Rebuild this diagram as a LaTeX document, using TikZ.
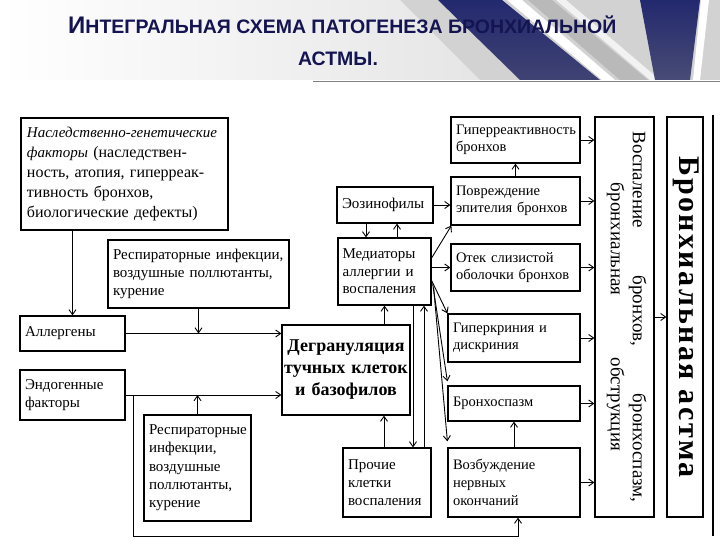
\documentclass[tikz,border=0pt]{standalone}
\usepackage{fontspec}
\setmainfont{Liberation Serif}
\newfontfamily\titlefont{Liberation Sans}
\usetikzlibrary{arrows.meta,calc}
\definecolor{navy}{HTML}{141452}
\definecolor{bandnavy}{HTML}{23296E}
\begin{document}
\begin{tikzpicture}[x=1pt,y=-1pt,
  bx/.style={draw, line width=1.2pt, fill=white, inner sep=0pt, align=left, font=\fontsize{15}{17.5}\selectfont},
  rbx/.style={bx, font=\fontsize{14.5}{17}\selectfont},
  arr/.style={line width=0.9pt, -{Straight Barb[length=5pt,width=7pt]}},
  ln/.style={line width=0.9pt},
  ttl/.style={text=navy, inner sep=0pt, font=\titlefont\bfseries\fontsize{19.5}{22}\selectfont}]
\useasboundingbox (0,0) rectangle (720,540);
% header background
\shade[left color=white, right color=gray!30] (0,0) rectangle (720,80);
\fill[gray!35] (400,0) -- (720,0) -- (720,80) -- (480,80) -- cycle;
\shade[top color=bandnavy, bottom color=bandnavy!70!gray] (438,0) -- (502,0) -- (600,80) -- (520,80) -- cycle;
\fill[white] (507,0) -- (522,0) -- (615,80) -- (602,80) -- cycle;
\fill[gray!55] (528,0) -- (552,0) -- (648,80) -- (620,80) -- cycle;
\fill[white!90!gray] (556,0) -- (566,0) -- (660,80) -- (650,80) -- cycle;
\shade[top color=bandnavy, bottom color=bandnavy!60!gray] (640,0) -- (700,0) -- (690,80) -- (655,80) -- cycle;
\fill[white] (701,0) -- (709,0) -- (700,80) -- (693,80) -- cycle;
\draw[gray, line width=1pt] (313,82) -- (720,82);
% title
\node[ttl, anchor=base west] (t1) at (68,34) {{\fontsize{24}{22}\selectfont И}НТЕГРАЛЬНАЯ СХЕМА ПАТОГЕНЕЗА БРОНХИАЛЬНОЙ};
\node[ttl, anchor=base] (t2) at (338,66) {АСТМЫ.};
% boxes
\node[bx, minimum width=207pt, minimum height=112pt, text width=195pt, font=\fontsize{16}{20}\selectfont] (her) at (124.5,174)
 {{\fontsize{15}{20}\selectfont\itshape Наследственно-генетические}\\{\fontsize{15}{20}\selectfont\itshape факторы} (наследствен-\\\makebox[187pt][s]{ность, атопия, гиперреак-}\\тивность бронхов,\\биологические дефекты)};
\node[bx, minimum width=181pt, minimum height=68pt, text width=171pt, font=\fontsize{15}{18}\selectfont] (resp1) at (198.5,274)
 {Респираторные инфекции,\\воздушные поллютанты,\\курение};
\node[bx, minimum width=105pt, minimum height=35pt, text width=95pt] (allerg) at (72.5,333.5) {Аллергены};
\node[bx, minimum width=105pt, minimum height=50pt, text width=95pt] (endo) at (72.5,395) {Эндогенные\\факторы};
\node[bx, minimum width=107pt, minimum height=106pt, text width=97pt, font=\fontsize{15}{18.3}\selectfont] (resp2) at (197.5,468)
 {Респираторные\\инфекции,\\воздушные\\поллютанты,\\курение};
\node[bx, minimum width=128pt, minimum height=90pt, text width=126pt, align=center, font=\bfseries\fontsize{18}{22}\selectfont] (degr) at (346,370)
 {Дегрануляция\\тучных клеток\\и базофилов};
\node[bx, minimum width=96pt, minimum height=36pt, text width=86pt] (eos) at (385,205) {Эозинофилы};
\node[bx, minimum width=93pt, minimum height=67pt, text width=84pt] (med) at (384.5,271.5) {Медиаторы\\аллергии и\\воспаления};
\node[bx, minimum width=88pt, minimum height=69pt, text width=78pt, font=\fontsize{15}{18}\selectfont] (proch) at (387,482.5) {Прочие\\клетки\\воспаления};
\node[rbx, minimum width=129pt, minimum height=46pt, text width=119pt] (hyperr) at (515.5,140) {Гиперреактивность\\бронхов};
\node[rbx, minimum width=129pt, minimum height=48pt, text width=119pt] (povr) at (515.5,201) {Повреждение\\эпителия бронхов};
\node[rbx, minimum width=129pt, minimum height=47pt, text width=119pt] (otek) at (515.5,267.5) {Отек слизистой\\оболочки бронхов};
\node[rbx, minimum width=132pt, minimum height=48pt, text width=122pt] (hyperk) at (514,338) {Гиперкриния и\\дискриния};
\node[rbx, minimum width=132pt, minimum height=35pt, text width=122pt] (bronsp) at (514,403.5) {Бронхоспазм};
\node[rbx, minimum width=132pt, minimum height=69pt, text width=122pt, font=\fontsize{14.5}{18}\selectfont] (vozb) at (514,482.5) {Возбуждение\\нервных\\окончаний};
\node[bx, minimum width=59pt, minimum height=400pt] (vosp) at (624.5,317) {};
\node[inner sep=0pt, rotate=-90, align=center, font=\fontsize{19}{22}\selectfont] (vospt) at ([xshift=2]vosp.center)
 {\hbox to 371pt{Воспаление\hfill бронхов,\hfill бронхоспазм,}\\\hbox to 268pt{бронхиальная\hfill обструкция}};
\node[bx, minimum width=36pt, minimum height=400pt] (asth) at (685,317) {};
\node[inner sep=0pt, rotate=-90, font=\bfseries\fontsize{30}{32}\selectfont\addfontfeatures{LetterSpace=8}] (astht) at ([xshift=1]asth.center) {Бронхиальная астма};
\draw[line width=1.4pt] (713,115) -- (713,536);
% connectors left
\draw[arr] (her.south -| allerg.north) -- (allerg.north);
\draw[arr] (resp1.south) -- (resp1.south |- allerg.east);
\draw[arr] (allerg.east) -- (allerg.east -| degr.west);
\draw[arr] (endo.east) -- (endo.east -| degr.west);
\draw[arr] (resp2.north) -- (resp2.north |- endo.east);
\coordinate (botl) at (133,536);
\draw[arr] (endo.east -| botl) -- (botl) -| ([xshift=4]vozb.south);
% middle
\draw[arr] (med.south |- degr.north) -- (med.south);
\draw[arr] ([xshift=-3]proch.north) -- ([xshift=-3]proch.north |- degr.south);
\draw[arr] ([xshift=28.5]med.south) -- ([xshift=28.5]med.south |- proch.north);
\draw[arr] ([xshift=39.5]med.south |- proch.north) -- ([xshift=39.5]med.south);
\draw[arr] ([xshift=-19]eos.south) -- ([xshift=-19]eos.south |- med.north);
\draw[arr] ([xshift=12]eos.south |- med.north) -- ([xshift=12]eos.south);
\draw[arr] (eos.east) -- (eos.east -| povr.west);
\draw[arr] ([yshift=13.5]med.east) -- ([xshift=1]povr.south west);
\draw[arr] (med.east |- otek.west) -- (otek.west);
\draw[arr] ([yshift=-9]med.east) -- (hyperk.north west);
\draw[arr] ([xshift=1,yshift=-12]med.east) -- ([yshift=4]bronsp.north west);
\draw[arr] ([xshift=2,yshift=-16]med.east) -- ([yshift=6]vozb.north west);
% right
\draw[arr] (povr.north) -- (povr.north |- hyperr.south);
\draw[arr] (vozb.north) -- (vozb.north |- bronsp.south);
\foreach \b in {hyperr,povr,otek,hyperk,bronsp,vozb}
  \draw[arr] (\b.east) -- (\b.east -| vosp.west);
\draw[arr] (vosp.east) -- (vosp.east -| asth.west);
\end{tikzpicture}
\end{document}
